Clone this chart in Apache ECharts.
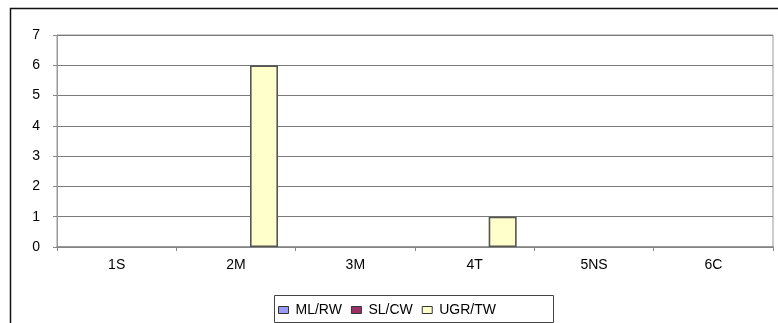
<!DOCTYPE html>
<html><head><meta charset="utf-8">
<script src="https://cdn.jsdelivr.net/npm/echarts@6/dist/echarts.min.js"></script>
<style>html,body{margin:0;padding:0;background:#fff}#c{width:778px;height:323px}</style>
</head><body><div id="c"></div>
<script>
var categories = ['1S','2M','3M','4T','5NS','6C'];
var mlrw = [0,0,0,0,0,0];
var slcw = [0,0,0,0,0,0];
var ugrtw = [0,6,0,1,0,0];
var yTicks = [0,1,2,3,4,5,6,7];

var chart = echarts.init(document.getElementById('c'), null, {renderer:'canvas'});
var font = 'Liberation Sans, Arial, sans-serif';
function bar(name, data, color, border) {
  return {name:name, type:'bar', barWidth:28, barGap:'0%',
    data:data.map(function(v){
      return v === 0 ? {value:v, itemStyle:{borderWidth:0, opacity:0}} : {value:v};
    }),
    itemStyle:{color:color, borderColor:border, borderWidth:1.6},
    emphasis:{disabled:true}, animation:false};
}
chart.setOption({
  animation:false,
  graphic:[
    {type:'rect', shape:{x:10.5,y:8.5,width:800,height:400}, style:{fill:null, stroke:'#111', lineWidth:1.5}, z:-1},
    {type:'rect', shape:{x:274.5,y:295.5,width:279,height:27}, style:{fill:null, stroke:'#444', lineWidth:1}, z:-1}
  ],
  grid:{left:57, right:5, top:35, bottom:76, show:true, borderColor:'#999', borderWidth:1, containLabel:false},
  legend:{left:278, top:303, itemWidth:10, itemHeight:7, itemGap:9, padding:0,
    textStyle:{fontFamily:font, fontSize:14, color:'#000', padding:[0,0,0,2]},
    icon:'rect',
    data:[
      {name:'ML/RW', itemStyle:{color:'#9999FF', borderColor:'#333', borderWidth:1}},
      {name:'SL/CW', itemStyle:{color:'#993366', borderColor:'#333', borderWidth:1}},
      {name:'UGR/TW', itemStyle:{color:'#FFFFCC', borderColor:'#333', borderWidth:1}}
    ]},
  xAxis:{type:'category', data:categories,
    axisLine:{lineStyle:{color:'#888', width:1.5}},
    axisTick:{show:true, length:4, lineStyle:{color:'#888'}},
    axisLabel:{fontFamily:font, fontSize:14, color:'#000', margin:11}},
  yAxis:{type:'value', min:0, max:7, interval:1,
    axisLine:{show:true, lineStyle:{color:'#999', width:1}},
    axisTick:{show:true, length:4, lineStyle:{color:'#888'}},
    splitLine:{lineStyle:{color:'#7a7a7a', width:1}},
    axisLabel:{fontFamily:font, fontSize:14, color:'#000', margin:17,
      formatter:function(v){return yTicks.indexOf(v)>=0?String(v):'';}}},
  series:[
    bar('ML/RW', mlrw, '#9999FF', '#333'),
    bar('SL/CW', slcw, '#993366', '#333'),
    bar('UGR/TW', ugrtw, '#FFFFCC', '#555')
  ]
});
</script></body></html>
